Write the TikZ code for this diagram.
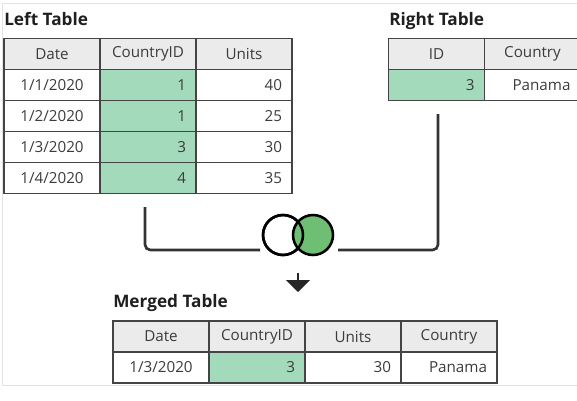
\documentclass[tikz,border=0pt]{standalone}
\usepackage{fontspec}
\setmainfont{Open Sans}
\usetikzlibrary{arrows.meta}
\tikzset{>=latex}
\definecolor{keygreen}{RGB}{163,218,188}
\definecolor{venngreen}{RGB}{110,190,115}
\definecolor{headgray}{RGB}{235,235,235}
\definecolor{gridline}{RGB}{68,68,68}
\definecolor{celltext}{RGB}{60,60,60}
\definecolor{framegray}{RGB}{226,226,226}
\tikzset{cell/.style = {draw=gridline, line width=1.1pt, minimum width=72pt, minimum height=23.25pt, inner sep=0pt, text=celltext, font=\fontsize{11.4}{13}\selectfont}}
\tikzset{head/.style = {cell, fill=headgray}}
\tikzset{num/.style = {cell, text width=57pt, align=right}}
\tikzset{key/.style = {num, fill=keygreen}}
\tikzset{title/.style = {anchor=base west, inner sep=0pt, text=black!88, font=\fontsize{12.9}{15}\selectfont\bfseries}}
\tikzset{link/.style = {line width=2pt, draw=black!80, rounded corners=4pt}}
\tikzset{venn/.style = {circle, draw=black, line width=1.9pt, minimum size=30pt, inner sep=0pt}}

\begin{document}
\begin{tikzpicture}[x=0.75pt, y=-0.75pt]
                \useasboundingbox (0,0) rectangle (577,400);
                \draw[framegray, line width=0.75pt] (2,3) rectangle (582,385);

                % left table
                \node[title] (ltitle) at (4,25) {Left Table};
                \node[head] (lhd) at (52,54) {Date};
                \node[head] (lhc) at (148,54) {CountryID};
                \node[head] (lhu) at (244,54) {Units};
                \node[cell] (l1d) at (52,85) {1/1/2020};
                \node[key] (l1c) at (148,85) {1};
                \node[num] (l1u) at (244,85) {40};
                \node[cell] (l2d) at (52,116) {1/2/2020};
                \node[key] (l2c) at (148,116) {1};
                \node[num] (l2u) at (244,116) {25};
                \node[cell] (l3d) at (52,147) {1/3/2020};
                \node[key] (l3c) at (148,147) {3};
                \node[num] (l3u) at (244,147) {30};
                \node[cell] (l4d) at (52,178) {1/4/2020};
                \node[key] (l4c) at (148,178) {4};
                \node[num] (l4u) at (244,178) {35};

                % right table
                \node[title] (rtitle) at (389,25) {Right Table};
                \node[head] (rhi) at (436.5,54) {ID};
                \node[head] (rhc) at (532.5,54) {Country};
                \node[key] (r1i) at (436.5,85) {3};
                \node[num] (r1c) at (532.5,85) {Panama};

                % join symbol
                \coordinate (venn) at (298,235);
                \node[venn, fill=white] (vl) at (283,235) {};
                \node[venn, fill=venngreen] (vr) at (313,235) {};
                \draw[line width=1.9pt] (vl.center) circle[radius=15pt];
                \coordinate (joinl) at (260,250);
                \coordinate (joinr) at (338,250);

                \draw[link] ([xshift=-2.25pt, yshift=-9.75pt]l4c.south) |- (joinl);
                \draw[link] ([xshift=1.1pt, yshift=-9.75pt]r1i.south) |- (joinr);
                \draw[line width=1.5pt, draw=black!85, -{Triangle[width=18pt, length=9pt]}] ([yshift=-28.5pt]venn) -- ([yshift=-42.75pt]venn);

                % merged table
                \node[title] (mtitle) at (113,307) {Merged Table};
                \node[head] (mhd) at (161,336.5) {Date};
                \node[head] (mhc) at (257,336.5) {CountryID};
                \node[head] (mhu) at (353,336.5) {Units};
                \node[head] (mhn) at (449,336.5) {Country};
                \node[cell] (m1d) at (161,367.5) {1/3/2020};
                \node[key] (m1c) at (257,367.5) {3};
                \node[num] (m1u) at (353,367.5) {30};
                \node[num] (m1n) at (449,367.5) {Panama};
            \end{tikzpicture}
\end{document}
